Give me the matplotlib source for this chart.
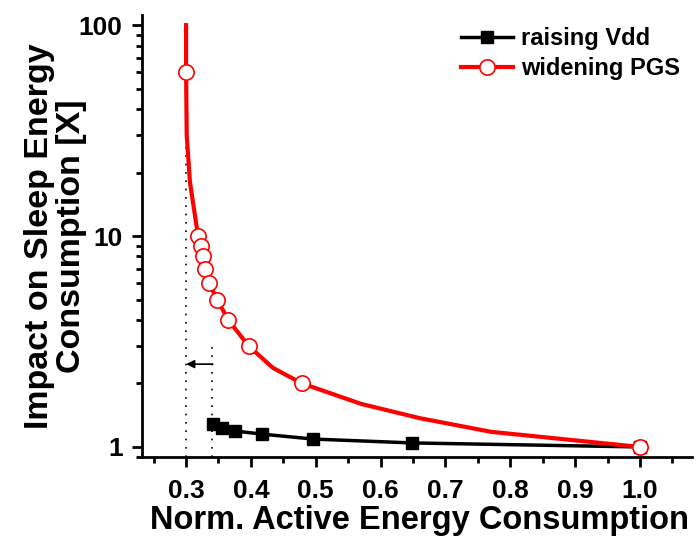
import matplotlib
matplotlib.use('Agg')
import matplotlib.pyplot as plt
from matplotlib.ticker import MultipleLocator, LogLocator, NullFormatter, FixedLocator, FixedFormatter

plt.rcParams['font.family'] = ['Liberation Sans', 'DejaVu Sans']
plt.rcParams['font.weight'] = 'bold'

# raising Vdd
vdd_x = [0.3416, 0.355, 0.3755, 0.4175, 0.496, 0.648, 1.0]
vdd_y = [1.29, 1.23, 1.19, 1.15, 1.09, 1.045, 1.0]

# widening PGS (marked points)
pgs_x = [0.300, 0.3185, 0.323, 0.326, 0.329, 0.335, 0.348, 0.365, 0.397, 0.479, 1.0]
pgs_y = [60, 10, 9, 8, 7, 6, 5, 4, 3, 2, 1]

# widening PGS curve (line through marked and unmarked points)
pgs_line_x = [0.300, 0.300, 0.301, 0.306, 0.3185, 0.323, 0.326, 0.329, 0.335, 0.348,
              0.365, 0.397, 0.434, 0.479, 0.57, 0.66, 0.77, 1.0]
pgs_line_y = [100, 60, 30, 18, 10, 9, 8, 7, 6, 5,
              4, 3, 2.37, 2, 1.6, 1.37, 1.18, 1.0]

fig = plt.figure(figsize=(6.96, 5.42), dpi=100)
ax = fig.add_axes([0.204, 0.157, 0.79, 0.815])

# guide lines and arrow
ax.plot([0.3, 0.3], [0.897, 60], color='black', lw=1.2, ls=(0, (1, 4)))
ax.plot([0.34, 0.34], [0.897, 3.0], color='black', lw=1.2, ls=(0, (1, 4)))
ax.annotate('', xy=(0.3, 2.47), xytext=(0.341, 2.47),
            arrowprops=dict(arrowstyle='-|>', color='black', lw=1.2,
                            mutation_scale=12, shrinkA=0, shrinkB=0))

ax.plot(vdd_x, vdd_y, color='black', lw=2.5, marker='s', ms=9,
        mfc='black', mec='black', label='raising Vdd', zorder=3)
ax.plot(pgs_line_x, pgs_line_y, color='red', lw=3, zorder=4)
ax.plot(pgs_x, pgs_y, ls='none', marker='o', ms=11, mfc='white', mec='red',
        mew=1.2, zorder=5)
# legend proxy
ax.plot([], [], color='red', lw=3, marker='o', ms=11, mfc='white', mec='red',
        mew=1.2, label='widening PGS')

ax.set_yscale('log')
ax.set_xlim(0.232, 1.08)
ax.set_ylim(0.897, 111.5)

ax.xaxis.set_major_locator(MultipleLocator(0.1))
ax.xaxis.set_minor_locator(MultipleLocator(0.05))
ax.xaxis.set_major_formatter(plt.FuncFormatter(lambda v, p: '%.1f' % v))
ax.yaxis.set_major_locator(FixedLocator([1, 10, 100]))
ax.yaxis.set_major_formatter(FixedFormatter(['1', '10', '100']))
ax.yaxis.set_minor_locator(LogLocator(base=10, subs=range(2, 10)))
ax.yaxis.set_minor_formatter(NullFormatter())

for s in ['top', 'right']:
    ax.spines[s].set_visible(False)
for s in ['left', 'bottom']:
    ax.spines[s].set_linewidth(2)

ax.tick_params(which='major', direction='out', length=7, width=2, labelsize=19)
ax.tick_params(axis='x', which='major', pad=9)
ax.tick_params(axis='y', which='major', pad=7)
ax.tick_params(which='minor', direction='out', length=4, width=2)
for lab in ax.get_xticklabels() + ax.get_yticklabels():
    lab.set_fontweight('bold')

ax.set_xlabel('Norm. Active Energy Consumption', fontsize=23.5, fontweight='bold')
ax.set_ylabel('Impact on Sleep Energy\nConsumption [X]', fontsize=24.5,
              fontweight='bold', linespacing=1.05)
ax.xaxis.set_label_coords(0.504, -0.108)
ax.yaxis.set_label_coords(-0.1, 0.5)

leg = ax.legend(loc='upper right', frameon=False, fontsize=17, handlelength=2.2,
                handletextpad=0.35, borderaxespad=0.1, labelspacing=0.3,
                bbox_to_anchor=(1.0, 1.0))
for t in leg.get_texts():
    t.set_fontweight('bold')

fig.savefig('out.png', dpi=100)
